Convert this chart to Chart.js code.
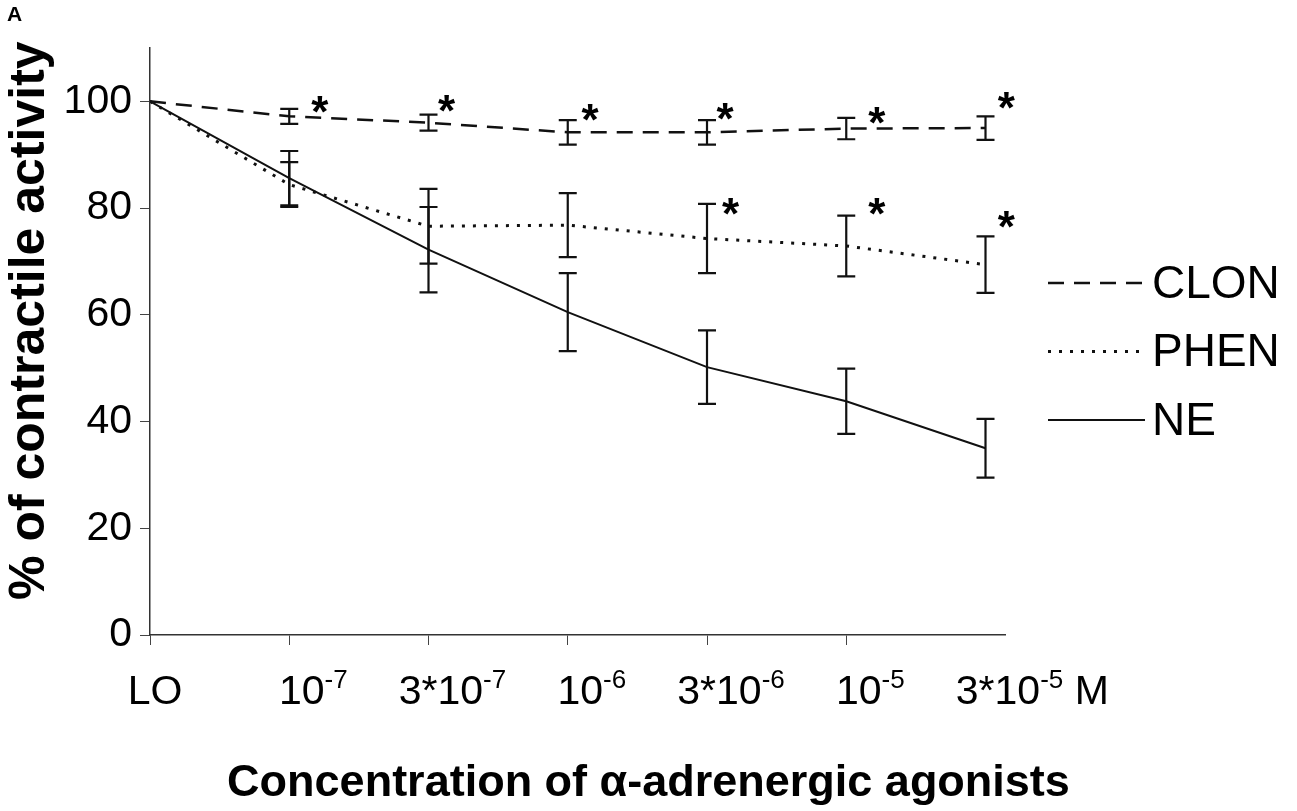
<!DOCTYPE html>
<html>
<head>
<meta charset="utf-8">
<script src="https://cdn.jsdelivr.net/npm/chart.js@4.4.1/dist/chart.umd.min.js"></script>
<style>
  html, body { margin: 0; padding: 0; background: #fff; }
  #wrap { position: relative; width: 1297px; height: 811px; }
  #panel { position: absolute; left: 7px; top: 2px; font: bold 21px "Liberation Sans", Arial, sans-serif; color: #000; }
</style>
</head>
<body>
<div id="wrap">
  <canvas id="chart" width="1297" height="811"></canvas>
  <div id="panel">A</div>
</div>
<script>
const FONT = '"Liberation Sans", Arial, sans-serif';

// x categories (LO + agonist concentrations), written as base + superscript
const tickBase = ["LO", "10", "3*10", "10", "3*10", "10", "3*10"];
const tickSup = ["", "-7", "-7", "-6", "-6", "-5", "-5"];
const tickSuffix = ["", "", "", "", "", "", " M"];

// mean % of contractile activity and error (+/-)
const clonMean = [100, 97.2, 96.0, 94.2, 94.2, 94.9, 95.0];
const clonErr = [0, 1.4, 1.5, 2.3, 2.3, 2.0, 2.2];
const phenMean = [100, 84.4, 76.6, 76.8, 74.3, 72.9, 69.4];
const phenErr = [0, 4.2, 7.0, 6.0, 6.5, 5.7, 5.3];
const neMean = [100, 85.6, 72.2, 60.5, 50.2, 43.8, 35.0];
const neErr = [0, 5.1, 8.0, 7.3, 6.9, 6.1, 5.5];

// significance asterisks (x in category units, y in %)
const clonStarX = [1.22, 2.13, 3.16, 4.13, 5.22, 6.15];
const clonStarY = [99.8, 100.0, 98.3, 98.5, 97.9, 100.6];
const phenStarX = [4.17, 5.22, 6.15];
const phenStarY = [80.7, 80.7, 78.3];

const yTicks = [0, 20, 40, 60, 80, 100];

const toPoints = arr => arr.map((v, i) => ({ x: i, y: v }));

/* error bars with caps */
const errorBars = {
  id: "errorBars",
  afterDatasetsDraw(chart) {
    const { ctx, scales: { x, y } } = chart;
    const sets = [[clonMean, clonErr], [phenMean, phenErr], [neMean, neErr]];
    ctx.save();
    ctx.strokeStyle = "#111";
    ctx.lineWidth = 2.2;
    sets.forEach(([mean, err]) => {
      mean.forEach((m, i) => {
        if (!err[i]) return;
        const px = x.getPixelForValue(i);
        const top = y.getPixelForValue(m + err[i]);
        const bot = y.getPixelForValue(m - err[i]);
        ctx.beginPath();
        ctx.moveTo(px, top); ctx.lineTo(px, bot);
        ctx.moveTo(px - 9, top); ctx.lineTo(px + 9, top);
        ctx.moveTo(px - 9, bot); ctx.lineTo(px + 9, bot);
        ctx.stroke();
      });
    });
    ctx.restore();
  }
};

/* asterisks */
const stars = {
  id: "stars",
  afterDatasetsDraw(chart) {
    const { ctx, scales: { x, y } } = chart;
    ctx.save();
    ctx.fillStyle = "#000";
    ctx.font = "bold 44px " + FONT;
    ctx.textAlign = "center";
    ctx.textBaseline = "alphabetic";
    const draw = (xs, ys) => xs.forEach((v, i) => {
      ctx.fillText("*", x.getPixelForValue(v), y.getPixelForValue(ys[i]) + 25);
    });
    draw(clonStarX, clonStarY);
    draw(phenStarX, phenStarY);
    ctx.restore();
  }
};

/* x tick labels with superscript exponents */
const xTickLabels = {
  id: "xTickLabels",
  afterDraw(chart) {
    const { ctx, scales: { x } } = chart;
    const base = chart.chartArea.bottom + 69;
    ctx.save();
    ctx.fillStyle = "#000";
    ctx.textBaseline = "alphabetic";
    ctx.textAlign = "left";
    tickBase.forEach((b, i) => {
      ctx.font = "41px " + FONT;
      const wb = ctx.measureText(b).width;
      ctx.font = "26px " + FONT;
      const ws = ctx.measureText(tickSup[i]).width;
      const cx = x.getPixelForValue(i) + (i === 0 ? 5 : 24);
      const left = cx - (wb + ws) / 2;
      ctx.font = "41px " + FONT;
      ctx.fillText(b, left, base);
      ctx.font = "26px " + FONT;
      ctx.fillText(tickSup[i], left + wb, base - 16);
      if (tickSuffix[i]) {
        ctx.font = "41px " + FONT;
        ctx.fillText(tickSuffix[i], left + wb + ws, base);
      }
    });
    ctx.restore();
  }
};

/* legend on the right */
const sideLegend = {
  id: "sideLegend",
  afterDraw(chart) {
    const { ctx, chartArea } = chart;
    const x0 = chartArea.right + 43;
    ctx.save();
    ctx.font = "46px " + FONT;
    ctx.textBaseline = "middle";
    ctx.fillStyle = "#000";
    chart.data.datasets.forEach((ds, i) => {
      const yy = 283 + i * 68.5;
      ctx.strokeStyle = ds.borderColor;
      ctx.lineWidth = ds.borderWidth;
      ctx.setLineDash(ds.borderDash || []);
      ctx.beginPath();
      ctx.moveTo(x0, yy); ctx.lineTo(x0 + 97, yy);
      ctx.stroke();
      ctx.fillText(ds.label, x0 + 104, yy + 2);
    });
    ctx.restore();
  }
};

Chart.defaults.font.family = FONT;
Chart.defaults.color = "#000";

new Chart(document.getElementById("chart"), {
  type: "line",
  data: {
    datasets: [
      { label: "CLON", data: toPoints(clonMean), borderColor: "#111", borderWidth: 2.5, borderDash: [16, 10], pointRadius: 0, tension: 0, fill: false },
      { label: "PHEN", data: toPoints(phenMean), borderColor: "#111", borderWidth: 3, borderDash: [3, 8], pointRadius: 0, tension: 0, fill: false },
      { label: "NE", data: toPoints(neMean), borderColor: "#111", borderWidth: 2, pointRadius: 0, tension: 0, fill: false }
    ]
  },
  options: {
    responsive: false,
    animation: false,
    layout: { padding: { top: 48, left: 0, right: 0, bottom: 0 } },
    plugins: {
      legend: { display: false },
      tooltip: { enabled: false },
      title: {
        display: true,
        position: "bottom",
        text: "Concentration of \u03b1-adrenergic agonists",
        font: { size: 45, weight: "bold" },
        color: "#000",
        padding: { top: 0, bottom: 0 }
      }
    },
    scales: {
      x: {
        type: "linear",
        min: 0,
        max: 6.14,
        afterBuildTicks: s => { s.ticks = tickBase.map((_, i) => ({ value: i })); },
        ticks: { display: false },
        grid: {
          drawOnChartArea: false,
          tickLength: 10,
          color: c => (c.index < 6 ? "#444" : "rgba(0,0,0,0)")
        },
        border: { color: "#333", width: 1.5 },
        afterFit: s => { s.height = 122; }
      },
      y: {
        min: 0,
        max: 110,
        afterBuildTicks: s => { s.ticks = yTicks.map(v => ({ value: v })); },
        ticks: { font: { size: 41 }, color: "#000", padding: 8 },
        grid: { drawOnChartArea: false, tickLength: 10, color: "#444" },
        border: { color: "#333", width: 1.5 },
        title: {
          display: true,
          text: "   % of contractile activity",
          font: { size: 50, weight: "bold" },
          color: "#000",
          padding: { top: 0, bottom: 0 }
        },
        afterFit: s => { s.width = 150; }
      },
      y2: {
        position: "right",
        grid: { display: false },
        ticks: { display: false },
        border: { display: false },
        afterFit: s => { s.width = 292; }
      }
    }
  },
  plugins: [errorBars, stars, xTickLabels, sideLegend]
});
</script>
</body>
</html>
